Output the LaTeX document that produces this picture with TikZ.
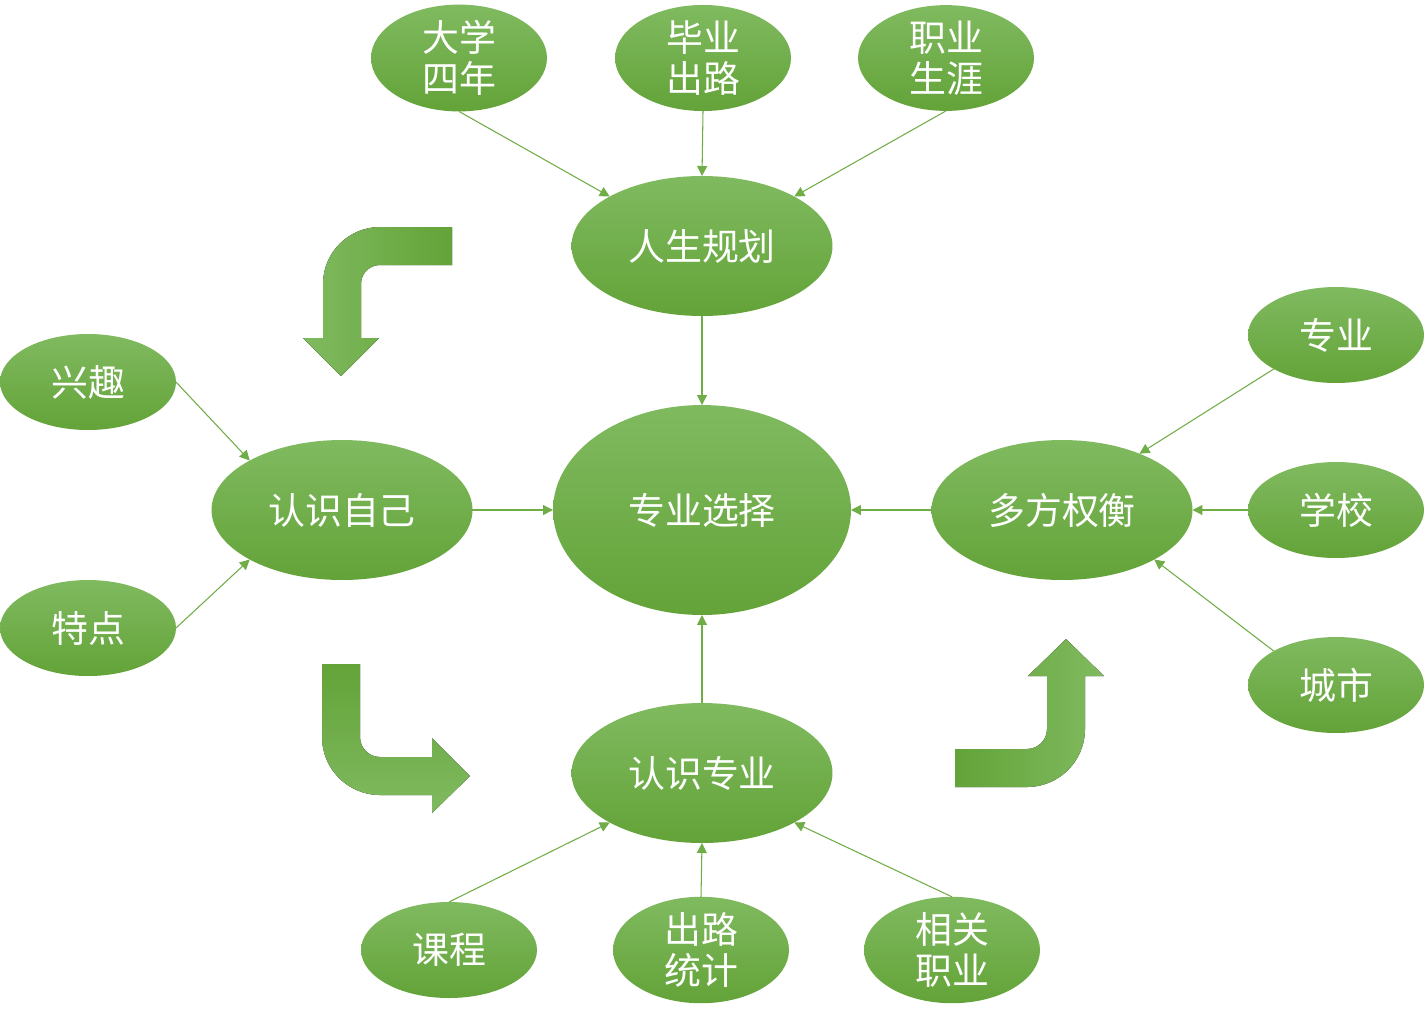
\documentclass[tikz,border=0pt]{standalone}
\usepackage{fontspec}
\newfontfamily\cjk{Noto Sans CJK SC}
\usetikzlibrary{arrows.meta,shapes.geometric}
\definecolor{leafTop}{RGB}{128,186,96}
\definecolor{leafBot}{RGB}{99,163,56}
\definecolor{linkGreen}{RGB}{112,173,71}

\begin{document}
\begin{tikzpicture}[
x=0.02cm, y=-0.02cm,
bubble/.style={ellipse, top color=leafTop, bottom color=leafBot, inner sep=0pt, outer sep=0pt, text=white, align=center, font=\cjk\fontsize{21}{23.5}\selectfont},
leaf/.style={bubble, minimum width=3.52cm, minimum height=1.92cm},
topic/.style={bubble, minimum width=5.22cm, minimum height=2.8cm},
core/.style={bubble, minimum width=5.96cm, minimum height=4.2cm},
link/.style={draw=linkGreen, line width=0.6pt, -{Triangle[length=2mm,width=2mm]}},
turnarrow/.style={draw=none}
]
\path[fill=white] (0,0) rectangle (1425,1015);

\node[core] (choice) at (702,510) {专业选择};
\node[topic] (plan) at (702,246) {人生规划};
\node[topic] (self) at (342,510) {认识自己};
\node[topic] (weigh) at (1062,510) {多方权衡};
\node[topic] (study) at (702,773) {认识专业};

\node[leaf] (college) at (459,58) {大学\\四年};
\node[leaf] (after) at (703,58) {毕业\\出路};
\node[leaf] (career) at (946,58) {职业\\生涯};
\node[leaf] (hobby) at (88,382) {兴趣};
\node[leaf] (trait) at (88,628) {特点};
\node[leaf] (field) at (1336,335) {专业};
\node[leaf] (school) at (1336,510) {学校};
\node[leaf] (city) at (1336,685) {城市};
\node[leaf] (course) at (449,950) {课程};
\node[leaf] (stats) at (701,950) {出路\\统计};
\node[leaf] (jobs) at (952,950) {相关\\职业};

\draw[link] (college.south) -- (plan.north west);
\draw[link] (after.south) -- (plan.north);
\draw[link] (career.south) -- (plan.north east);
\draw[link] (plan.south) -- (choice.north);
\draw[link] (hobby.east) -- (self.north west);
\draw[link] (trait.east) -- (self.south west);
\draw[link] (self.east) -- (choice.west);
\draw[link] (field.south west) -- (weigh.36);
\draw[link] (school.west) -- (weigh.east);
\draw[link] (city.north west) -- (weigh.south east);
\draw[link] (weigh.west) -- (choice.east);
\draw[link] (study.north) -- (choice.south);
\draw[link] (course.north) -- (study.south west);
\draw[link] (stats.north) -- (study.south);
\draw[link] (jobs.north) -- (study.south east);

\fill[turnarrow, left color=leafTop, right color=leafBot] (452,227) -- (380,227)
  arc[start angle=270, end angle=180, radius=57] -- (323,338) -- (303,338) -- (341,376)
  -- (379,338) -- (361,338) -- (361,284) arc[start angle=180, end angle=270, radius=19]
  -- (452,265) -- cycle;
\fill[turnarrow, top color=leafBot, bottom color=leafTop] (322,664) -- (322,737)
  arc[start angle=180, end angle=90, radius=58] -- (432,795) -- (432,813) -- (470,776)
  -- (432,738) -- (432,757) -- (380,757) arc[start angle=90, end angle=180, radius=20]
  -- (360,664) -- cycle;
\fill[turnarrow, left color=leafBot, right color=leafTop] (955,749) -- (1027,749)
  arc[start angle=90, end angle=0, radius=20] -- (1047,676) -- (1028,676) -- (1066,639)
  -- (1104,676) -- (1085,676) -- (1085,729) arc[start angle=0, end angle=90, radius=58]
  -- (955,787) -- cycle;
\end{tikzpicture}
\end{document}
